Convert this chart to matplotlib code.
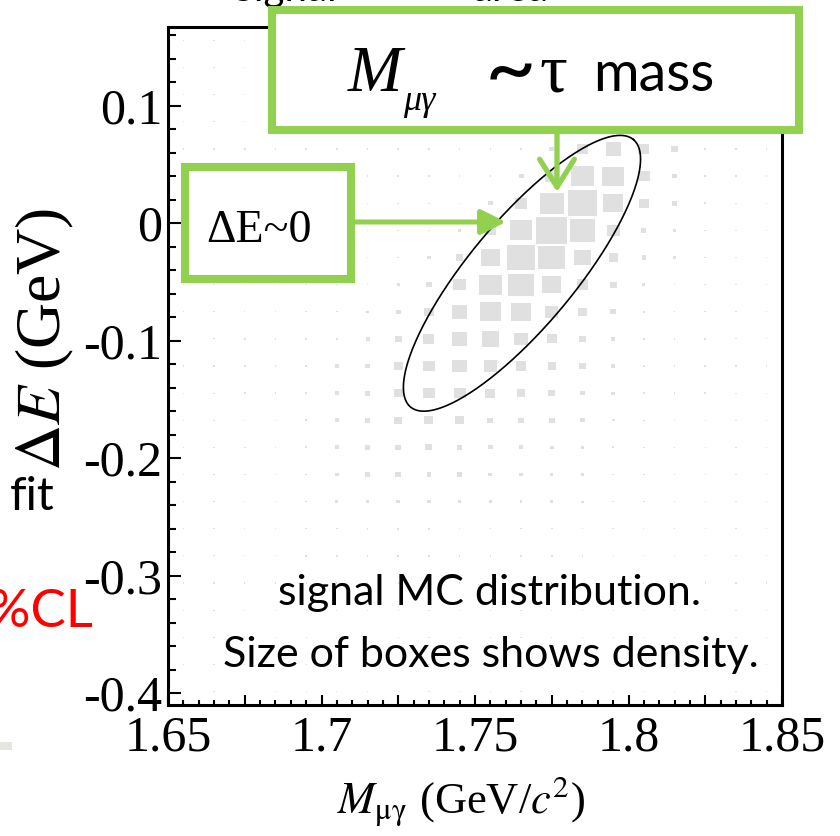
# Signal MC box plot of Delta E vs M(mu gamma), with slide annotations

import numpy as np
import matplotlib.pyplot as plt
from matplotlib.patches import Rectangle
from matplotlib.collections import PatchCollection
from matplotlib.ticker import MultipleLocator, FuncFormatter

plt.rcParams['mathtext.fontset'] = 'stix'

W, H = 840, 836
GREEN = '#92D050'
SERIF = 'Liberation Serif'
SANS = 'Lato'

# histogram binning (20 x 25 bins)
x_edges = np.linspace(1.65, 1.85, 21)
y_edges = np.linspace(-0.41, 0.167, 26)

# relative box size per bin (percent of full bin), rows from top (dE high) to bottom
density = [
    [4, 4, 4, 4, 4, 4, 4, 4, 4, 4, 4, 4, 5, 5, 5, 5, 5, 4, 4, 4],
    [4, 4, 4, 4, 4, 4, 4, 4, 4, 4, 4, 5, 5, 6, 8, 6, 5, 4, 4, 4],
    [4, 4, 4, 4, 4, 4, 4, 4, 4, 4, 4, 5, 6, 12, 16, 12, 6, 5, 4, 4],
    [4, 4, 4, 4, 4, 4, 4, 4, 4, 4, 5, 5, 9, 22, 30, 22, 11, 5, 5, 4],
    [4, 4, 5, 5, 5, 5, 5, 5, 5, 5, 5, 6, 16, 38, 49, 35, 20, 8, 5, 5],
    [4, 4, 4, 4, 4, 5, 5, 5, 5, 5, 5, 16, 45, 73, 70, 37, 17, 8, 5, 5],
    [4, 4, 4, 4, 4, 5, 5, 5, 5, 5, 16, 41, 78, 95, 67, 33, 17, 8, 5, 5],
    [4, 4, 4, 4, 4, 5, 5, 5, 5, 9, 34, 74, 100, 84, 43, 16, 10, 5, 5, 5],
    [4, 4, 4, 4, 5, 5, 5, 5, 11, 25, 60, 90, 87, 58, 30, 15, 8, 5, 5, 5],
    [4, 4, 4, 4, 5, 5, 5, 9, 17, 43, 73, 82, 62, 38, 22, 10, 6, 5, 5, 5],
    [4, 4, 4, 4, 5, 5, 8, 16, 31, 50, 70, 65, 43, 28, 20, 8, 5, 5, 5, 4],
    [4, 4, 5, 5, 5, 8, 13, 22, 36, 50, 57, 43, 33, 24, 15, 8, 5, 5, 4, 4],
    [4, 4, 5, 5, 6, 12, 17, 28, 39, 47, 43, 35, 26, 20, 15, 6, 5, 5, 4, 4],
    [4, 4, 5, 5, 6, 15, 19, 29, 38, 39, 33, 28, 24, 17, 11, 5, 5, 5, 4, 4],
    [4, 4, 4, 5, 8, 15, 19, 27, 29, 28, 20, 20, 18, 15, 9, 5, 5, 4, 4, 4],
    [4, 4, 5, 5, 8, 15, 19, 21, 23, 18, 15, 15, 13, 11, 7, 5, 5, 4, 4, 4],
    [4, 4, 5, 5, 6, 11, 17, 19, 15, 15, 13, 11, 11, 9, 5, 5, 4, 4, 4, 4],
    [4, 4, 4, 5, 5, 9, 11, 13, 11, 10, 9, 9, 9, 7, 5, 5, 4, 4, 4, 4],
    [4, 4, 4, 5, 5, 5, 6, 6, 6, 5, 5, 5, 5, 5, 5, 4, 4, 4, 4, 4],
    [4, 4, 4, 4, 5, 5, 5, 5, 5, 5, 5, 5, 5, 5, 4, 4, 4, 4, 4, 4],
    [4, 4, 4, 4, 4, 4, 4, 4, 4, 4, 4, 4, 4, 4, 4, 4, 4, 4, 4, 4],
    [4, 4, 4, 4, 4, 4, 4, 4, 4, 4, 4, 4, 4, 4, 4, 4, 4, 4, 4, 4],
    [4, 4, 4, 4, 4, 4, 4, 4, 4, 4, 4, 4, 4, 4, 4, 4, 4, 4, 4, 4],
    [4, 4, 4, 4, 4, 4, 4, 4, 4, 4, 4, 4, 4, 4, 4, 4, 4, 4, 4, 4],
    [4, 4, 4, 4, 4, 4, 4, 4, 4, 4, 4, 4, 4, 4, 4, 4, 4, 4, 4, 4],
]

# signal region ellipse: centre, major and minor half-axis vectors (data units)
ell_center = (1.7653, -0.0426)
ell_major = (0.0363, 0.1138)
ell_minor = (-0.0132, 0.0287)


def fpx(x, y):
    # slide pixel position -> figure fraction
    return x / W, 1 - y / H


fig = plt.figure(figsize=(W / 100, H / 100), dpi=100)
ax = fig.add_axes([168 / W, 1 - 705 / H, 614 / W, 678 / H])

# boxes
dens = np.array(density, dtype=float)[::-1] / 100.0
dx = np.diff(x_edges)[0]
dy = np.diff(y_edges)[0]
xc = 0.5 * (x_edges[:-1] + x_edges[1:])
yc = 0.5 * (y_edges[:-1] + y_edges[1:])
boxes = []
for j, y in enumerate(yc):
    for i, x in enumerate(xc):
        f = dens[j, i]
        boxes.append(Rectangle((x - f * dx / 2, y - f * dy / 2), f * dx, f * dy))
ax.add_collection(PatchCollection(boxes, facecolor='#e0e0e0', edgecolor='none'))

# ellipse
t = np.linspace(0, 2 * np.pi, 300)
ex = ell_center[0] + ell_major[0] * np.cos(t) + ell_minor[0] * np.sin(t)
ey = ell_center[1] + ell_major[1] * np.cos(t) + ell_minor[1] * np.sin(t)
ax.plot(ex, ey, color='black', lw=1.2)

ax.set_xlim(x_edges[0], x_edges[-1])
ax.set_ylim(y_edges[0], y_edges[-1])

for s in ax.spines.values():
    s.set_linewidth(2.2)

ax.xaxis.set_major_locator(MultipleLocator(0.025))
ax.xaxis.set_minor_locator(MultipleLocator(0.005))
ax.yaxis.set_major_locator(MultipleLocator(0.1))
ax.yaxis.set_minor_locator(MultipleLocator(0.02))


def xfmt(v, pos):
    if abs(v * 20 - round(v * 20)) < 1e-6:
        return '%g' % round(v, 3)
    return ''


ax.xaxis.set_major_formatter(FuncFormatter(xfmt))
ax.yaxis.set_major_formatter(FuncFormatter(lambda v, pos: '%g' % round(v, 3)))
ax.tick_params(which='both', direction='in', top=False, right=False, width=1.5)
ax.tick_params(axis='x', which='major', length=7.5, pad=7)
ax.tick_params(axis='x', which='minor', length=3.5)
ax.tick_params(axis='y', which='major', length=9, pad=4)
ax.tick_params(axis='y', which='minor', length=6)
for lab in ax.get_xticklabels() + ax.get_yticklabels():
    lab.set_fontfamily(SERIF)
    lab.set_fontsize(36)

ax.set_xlabel(r'$M_{\mathrm{\mu\gamma}}$ (GeV/$c^2$)', fontfamily=SERIF, fontsize=32)
ax.xaxis.label.set_va('center')
ax.xaxis.set_label_coords(0.477, -0.143)
ax.set_ylabel(r'$\Delta E$ (GeV)', fontfamily=SERIF, fontsize=46)
ax.yaxis.label.set_va('center')
ax.yaxis.set_label_coords(-0.2, 0.54)

ax.text(0.524, 0.1475, 'signal MC distribution.', transform=ax.transAxes,
        ha='center', va='baseline', fontfamily=SANS, fontsize=31)
ax.text(0.526, 0.056, 'Size of boxes shows density.', transform=ax.transAxes,
        ha='center', va='baseline', fontfamily=SANS, fontsize=31)

# slide overlay: annotation boxes and arrows
box1 = Rectangle(fpx(272, 130), 527 / W, 120 / H, transform=fig.transFigure,
                 facecolor='white', edgecolor=GREEN, lw=5.8, joinstyle='miter', zorder=5)
box2 = Rectangle(fpx(185, 279), 166 / W, 112 / H, transform=fig.transFigure,
                 facecolor='white', edgecolor=GREEN, lw=5.8, joinstyle='miter', zorder=5)
fig.add_artist(box1)
fig.add_artist(box2)

ax.annotate('', xy=fpx(557, 192), xytext=fpx(557, 134), xycoords='figure fraction',
            textcoords='figure fraction', annotation_clip=False, zorder=6,
            arrowprops=dict(arrowstyle='->,head_length=0.8,head_width=0.5', color=GREEN,
                            lw=3.8, mutation_scale=25, shrinkA=0, shrinkB=0))
ax.annotate('', xy=fpx(506, 222), xytext=fpx(355, 222), xycoords='figure fraction',
            textcoords='figure fraction', annotation_clip=False, zorder=6,
            arrowprops=dict(arrowstyle='-|>,head_length=0.6,head_width=0.3', color=GREEN,
                            lw=3.6, mutation_scale=25, shrinkA=0, shrinkB=0))

fig.text(*fpx(348, 91), 'M', fontfamily=SERIF, style='italic', fontsize=47,
         va='baseline', ha='left', zorder=7)
fig.text(*fpx(403, 110), 'μγ', fontfamily=SERIF, style='italic', fontsize=26,
         va='baseline', ha='left', zorder=7)
fig.text(*fpx(485, 74), '~', fontfamily=SANS, fontsize=64, va='center', ha='left', zorder=7)
fig.text(*fpx(540, 91), 'τ', fontfamily=SERIF, fontsize=50, va='baseline', ha='left', zorder=7)
fig.text(*fpx(593, 91), 'mass', fontfamily=SANS, fontsize=40, va='baseline', ha='left', zorder=7)
fig.text(*fpx(259, 242), 'ΔE~0', fontfamily=SERIF, fontsize=33, va='baseline', ha='center', zorder=7)

# other slide text around the plot
fig.text(*fpx(32, 510), 'fit', fontfamily=SANS, fontsize=34, va='baseline', ha='center')
fig.text(*fpx(93, 627), '90%CL', fontfamily=SANS, fontsize=38, color='red',
         va='baseline', ha='right')
fig.text(*fpx(233, 1), 'Signal', fontfamily=SANS, fontsize=29, va='baseline', ha='left')
fig.text(*fpx(473, 1), 'area', fontfamily=SANS, fontsize=29, va='baseline', ha='left')
fig.add_artist(Rectangle(fpx(0, 750), 12 / W, 8 / H, transform=fig.transFigure,
                         facecolor='#e6e6e0', edgecolor='none'))

fig.savefig('out.png', dpi=100)
